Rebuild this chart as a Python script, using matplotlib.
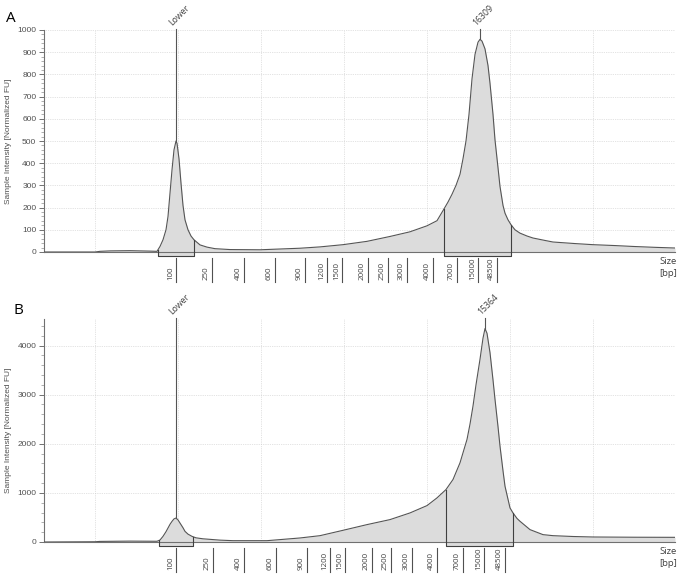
#!/usr/bin/env python3
"""Electropherogram panels (A/B) with size ladder and marked regions."""

import matplotlib
matplotlib.use("Agg")
import matplotlib.pyplot as plt
from matplotlib.ticker import AutoMinorLocator, MultipleLocator
import numpy as np

# ---- data (x = migration position, y = FU) ----
A_X = [44, 95, 100, 110, 130, 150, 157, 160, 163, 166, 168, 170, 172, 174, 176, 177,
       179, 181, 183, 185, 188, 191, 194, 200, 207, 215, 230, 260, 300, 320, 343, 367,
       390, 410, 427, 437, 444, 448, 452, 456, 460, 463, 466, 469, 472, 475, 478, 480, 482,
       485, 488, 490, 493, 495, 498, 500, 503, 505, 508, 511, 515, 520, 527, 533, 545,
       553, 575, 593, 615, 633, 655, 675]
A_Y = [0, 0, 3, 5, 6, 4, 3, 25, 55, 100, 160, 265, 370, 460, 500, 490,
       420, 310, 210, 145, 100, 72, 55, 32, 22, 15, 11, 10, 17, 23, 33, 48,
       70, 91, 118, 141, 194, 225, 260, 300, 350, 420, 500, 620, 780, 890, 945, 958, 950,
       915, 840, 760, 620, 505, 380, 295, 210, 175, 145, 123, 100, 85, 72, 63, 52,
       45, 38, 33, 29, 25, 21, 18]

B_X = [44, 95, 100, 130, 157, 160, 163, 166, 168, 170, 172, 174, 176, 178, 180, 183,
       185, 188, 192, 196, 203, 210, 220, 233, 267, 300, 320, 343, 367, 390, 410, 427,
       437, 446, 453, 460, 467, 470, 473, 476, 480, 483, 485, 487, 490, 493, 495, 498,
       500, 503, 505, 510, 513, 517, 520, 530, 543, 553, 573, 593, 635, 675]
B_Y = [0, 5, 12, 18, 15, 40, 115, 210, 285, 360, 420, 470, 488, 450, 386, 290,
       217, 160, 115, 85, 65, 54, 38, 27, 27, 82, 129, 238, 354, 456, 592, 741,
       898, 1068, 1272, 1612, 2088, 2400, 2768, 3200, 3720, 4150, 4345, 4250, 3856, 3300, 2904, 2350,
       1952, 1450, 1136, 694, 592, 480, 422, 252, 150, 129, 112, 102, 97, 95]

LADDER_SIZES = ["100", "250", "400", "600", "900", "1200", "1500", "2000",
                "2500", "3000", "4000", "7000", "15000", "48500"]
A_LADDER_POS = [176, 212, 244, 275, 305, 327, 342, 368, 388, 407, 433, 457, 478, 497]
B_LADDER_POS = [176, 213, 244, 276, 307, 330, 345, 372, 391, 412, 437, 463, 484, 505]

A_PEAKS = [(176, 500, "Lower"), (480, 958, "16309")]
B_PEAKS = [(176, 488, "Lower"), (485, 4345, "15364")]

A_REGIONS = [(158, 194), (444, 511)]
B_REGIONS = [(159, 193), (446, 513)]

A_YLIM, A_YSTEP = 1000, 100
B_YLIM, B_YSTEP = 4540, 1000

GRID_X = [95, 178, 261, 344, 427, 510, 593, 675]

FIG_W, FIG_H = 680, 575
LINE = "#555555"
FILL = "#dcdcdc"
GRIDC = "#c8c8c8"
TXT = "#404040"


def draw_panel(fig, rect_px, xs, ys, ladder_pos, peaks, regions, ylim, ystep, letter, letter_xy):
    left, top, right, bottom = rect_px
    ax = fig.add_axes([left / FIG_W, 1 - bottom / FIG_H,
                       (right - left) / FIG_W, (bottom - top) / FIG_H])
    h_px = bottom - top
    frac = lambda px: px / h_px  # pixel -> axes fraction (vertical)

    ax.set_xlim(44, 675)
    ax.set_ylim(0, ylim)
    ax.fill_between(xs, ys, 0, color=FILL, lw=0, zorder=1)
    ax.plot(xs, ys, color=LINE, lw=0.8, zorder=3)

    # grid
    for gx in GRID_X:
        ax.axvline(gx, color=GRIDC, lw=0.5, ls=(0, (1, 1.6)), zorder=0)
    for gy in np.arange(ystep, ylim + 1, ystep):
        ax.axhline(gy, color=GRIDC, lw=0.5, ls=(0, (1, 1.6)), zorder=0)

    # spines / ticks
    for s in ("top", "right"):
        ax.spines[s].set_visible(False)
    for s in ("left", "bottom"):
        ax.spines[s].set_color("#707070")
        ax.spines[s].set_linewidth(0.8)
    ax.set_xticks([])
    ax.yaxis.set_major_locator(MultipleLocator(ystep))
    ax.yaxis.set_minor_locator(AutoMinorLocator(5))
    ax.tick_params(axis="y", which="major", length=3.5, width=0.7, color="#707070",
                   labelsize=6, labelcolor="#505050", pad=2)
    ax.tick_params(axis="y", which="minor", length=2, width=0.5, color="#909090")
    for lab in ax.get_yticklabels():
        lab.set_fontfamily("Liberation Sans")
    ax.set_ylabel("Sample Intensity [Normalized FU]", fontsize=6, color="#505050",
                  family="Liberation Sans")
    ax.yaxis.set_label_coords(-32 / (right - left), 0.5)

    xt = ax.get_xaxis_transform()
    yt = ylim

    # marked regions
    for x0, x1 in regions:
        y0 = np.interp(x0, xs, ys)
        y1 = np.interp(x1, xs, ys)
        ax.plot([x0, x0], [y0, 0], color="#404040", lw=0.8, zorder=4)
        ax.plot([x1, x1], [y1, 0], color="#404040", lw=0.8, zorder=4)
        ax.fill_between([x0, x1], [0, 0], [-frac(4) * ylim] * 2, color=FILL, lw=0,
                        clip_on=False, zorder=2)
        ax.plot([x0, x0, x1, x1], [0, -frac(4) * ylim, -frac(4) * ylim, 0],
                color="#404040", lw=0.8, clip_on=False, zorder=4)

    # peak markers
    for px, pv, lab in peaks:
        ax.plot([px, px], [pv, yt + frac(1) * ylim], color=LINE, lw=0.8,
                clip_on=False, zorder=4)
        ax.text(px - 2, yt + frac(3) * ylim, lab, rotation=45, rotation_mode="anchor",
                ha="left", va="bottom", fontsize=6.3, color=TXT, family="Open Sans")

    # size ladder
    for pos, lab in zip(ladder_pos, LADDER_SIZES):
        ax.plot([pos, pos], [-frac(6), -frac(30)], transform=xt, color="#505050",
                lw=0.8, clip_on=False)
        ax.text(pos - 5.5, -frac(28), lab, transform=xt, rotation=90,
                rotation_mode="anchor", ha="left", va="center", fontsize=5.7,
                color=TXT, family="Open Sans")

    ax.text(677, -frac(9), "Size", transform=xt, ha="right", va="center",
            fontsize=6.8, color=TXT, family="Open Sans")
    ax.text(677, -frac(21), "[bp]", transform=xt, ha="right", va="center",
            fontsize=6.8, color=TXT, family="Open Sans")

    fig.text(letter_xy[0] / FIG_W, 1 - letter_xy[1] / FIG_H, letter, fontsize=11,
             family="Open Sans", ha="left", va="center", color="black")
    return ax


fig = plt.figure(figsize=(FIG_W / 100, FIG_H / 100), dpi=100)
fig.patch.set_facecolor("white")

draw_panel(fig, (44, 30, 675, 252), A_X, A_Y, A_LADDER_POS, A_PEAKS, A_REGIONS,
           A_YLIM, A_YSTEP, "A", (6, 18))
draw_panel(fig, (44, 319, 675, 542), B_X, B_Y, B_LADDER_POS, B_PEAKS, B_REGIONS,
           B_YLIM, B_YSTEP, "B", (13, 310))

fig.savefig("out.png", dpi=100, facecolor="white")
